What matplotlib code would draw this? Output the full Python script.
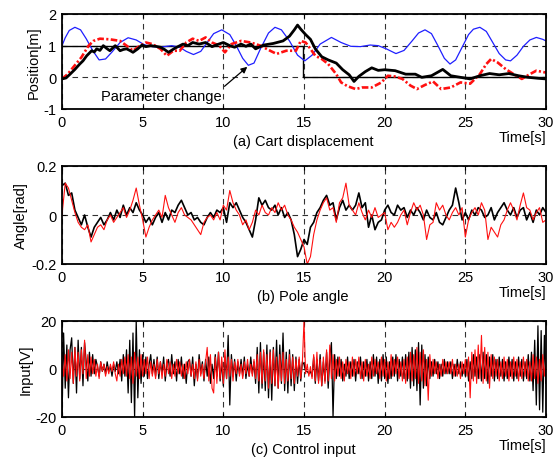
import numpy as np
import matplotlib
matplotlib.use("Agg")
import matplotlib.pyplot as plt

plt.rcParams['font.family'] = ['Liberation Sans', 'DejaVu Sans']
plt.rcParams['font.size'] = 10

# ---- (a) cart displacement ----
ref_t = [0, 14.95, 14.95, 30]
ref_pos = [1, 1, 0, 0]

blue_t = [0, 0.2, 0.45, 0.8, 1.15, 1.5, 1.9, 2.3, 2.7, 3.1, 3.6, 4.1, 4.6, 5.1, 5.6,
          6.2, 6.8, 7.3, 7.7, 8.15, 8.6, 9.0, 9.4, 9.9, 10.4, 10.8, 11.2, 11.55, 11.9,
          12.3, 12.8, 13.2, 13.6, 14.1, 14.6, 15.05, 15.5, 16.0, 16.7, 17.3, 17.9, 18.5,
          19.1, 19.6, 20.1, 20.7, 21.2, 21.7, 22.1, 22.5, 22.9, 23.3, 23.7, 24.05, 24.4,
          24.8, 25.2, 25.5, 25.9, 26.3, 26.7, 27.1, 27.5, 27.8, 28.2, 28.6, 29.0, 29.4,
          29.8, 30.0]
blue_pos = [1.00, 1.25, 1.48, 1.58, 1.50, 1.22, 0.85, 0.55, 0.58, 0.80, 1.10, 1.25, 1.18,
            1.03, 0.97, 0.96, 1.00, 0.95, 0.82, 0.72, 0.82, 1.10, 1.38, 1.50, 1.35, 1.00,
            0.60, 0.38, 0.45, 0.90, 1.40, 1.58, 1.50, 1.15, 0.70, 0.52, 0.70, 1.05, 1.26,
            1.10, 0.98, 0.97, 1.02, 1.00, 0.90, 0.75, 0.85, 1.15, 1.40, 1.50, 1.38, 1.00,
            0.60, 0.42, 0.55, 0.95, 1.35, 1.52, 1.58, 1.45, 1.10, 0.75, 0.55, 0.52, 0.70,
            0.98, 1.18, 1.26, 1.20, 1.15]

black_t = [0, 0.25, 0.5, 0.8, 1.1, 1.3, 1.53, 1.84, 2.0, 2.15, 2.35, 2.56, 2.75, 2.97, 3.15,
           3.3, 3.6, 3.8, 4.0, 4.2, 4.4, 4.7, 4.96, 5.2, 5.5, 5.8, 6.1, 6.35, 6.6, 7.0, 7.5,
           7.8, 8.1, 8.5, 8.9, 9.3, 9.6, 10.0, 10.4, 10.7, 11.1, 11.4, 11.7, 12.0, 12.5,
           13.1, 13.7, 14.1, 14.4, 14.6, 14.8, 15.1, 15.4, 15.7, 16.1, 16.5, 17.0, 17.4,
           17.8, 18.1, 18.4, 18.8, 19.2, 19.6, 20.0, 20.65, 21.3, 21.9, 22.3, 22.9, 23.6,
           24.1, 24.7, 25.3, 25.9, 26.5, 27.1, 27.7, 28.3, 28.9, 29.5, 30.0]
black_pos = [-0.05, -0.02, 0.10, 0.25, 0.42, 0.52, 0.68, 0.84, 0.80, 0.90, 0.85, 1.00, 0.92,
             0.84, 0.93, 1.00, 0.84, 0.88, 0.90, 0.85, 0.79, 0.90, 1.02, 0.97, 1.00, 0.98,
             0.95, 0.88, 0.79, 0.92, 1.05, 1.00, 1.10, 1.05, 1.10, 0.97, 1.03, 1.10, 1.00,
             0.95, 1.05, 0.98, 1.05, 0.90, 1.02, 1.07, 1.15, 1.30, 1.50, 1.65, 1.52, 1.35,
             1.20, 0.90, 0.65, 0.55, 0.45, 0.24, 0.08, -0.13, 0.03, 0.18, 0.30, 0.22, 0.24,
             0.21, 0.10, 0.10, 0.00, 0.05, 0.25, 0.05, 0.00, -0.05, 0.05, 0.12, 0.08, 0.12,
             0.05, 0.00, -0.03, -0.05]

red_t = [0, 0.35, 0.7, 1.2, 1.65, 1.95, 2.35, 2.97, 3.6, 4.0, 4.4, 4.75, 5.2, 5.6, 6.1,
         6.5, 6.9, 7.3, 7.7, 8.1, 8.5, 8.9, 9.3, 9.75, 10.1, 10.5, 11.1, 11.7, 12.3, 12.9,
         13.3, 13.9, 14.5, 14.8, 15.1, 15.4, 15.7, 16.1, 16.5, 17.0, 17.3, 17.7, 18.2,
         18.6, 19.2, 19.8, 20.2, 20.6, 21.1, 21.6, 22.0, 22.5, 23.0, 23.5, 24.1, 24.7,
         25.3, 25.9, 26.3, 26.6, 27.0, 27.5, 28.0, 28.5, 29.0, 29.4, 30.0]
red_pos = [-0.05, 0.10, 0.32, 0.63, 1.00, 1.15, 1.22, 1.20, 1.15, 1.00, 0.84, 0.97, 1.10,
           1.05, 0.90, 0.68, 0.84, 0.84, 1.10, 1.22, 1.15, 1.26, 1.10, 1.00, 0.79, 1.05,
           1.15, 1.10, 1.00, 0.84, 0.74, 0.84, 0.84, 1.15, 1.10, 0.90, 0.68, 0.58, 0.42,
           0.10, -0.16, -0.28, -0.37, -0.32, -0.32, -0.16, 0.05, 0.03, -0.05, -0.26, -0.37,
           -0.24, -0.13, -0.37, -0.32, -0.16, -0.20, 0.10, 0.42, 0.58, 0.47, 0.26, 0.10,
           -0.05, 0.10, 0.21, 0.15]

# ---- (b) pole angle, sampled every 0.2 s ----
angle_black = [
    0.12, 0.13, 0.08, 0.09, 0.02,
    -0.01, -0.04, 0.00, -0.05, -0.09,
    -0.05, -0.03, -0.01, -0.04, -0.02,
    0.01, -0.02, 0.02, -0.01, 0.04,
    0.00, 0.03, 0.01, 0.05, 0.02,
    0.00, -0.03, -0.01, -0.04, -0.01,
    0.01, -0.03, 0.01, -0.02, 0.02,
    0.01, 0.04, 0.06, 0.03, 0.00,
    0.01, -0.02, -0.01, -0.03, -0.04,
    -0.01, 0.01, -0.01, 0.02, 0.01,
    0.03, -0.03, 0.05, 0.03, 0.05,
    0.02, -0.01, -0.03, -0.06, -0.09,
    -0.02, 0.07, 0.04, 0.06, 0.03,
    0.02, 0.04, 0.00, 0.03, -0.01,
    0.01, -0.02, -0.08, -0.17, -0.14,
    -0.10, -0.12, -0.05, -0.03, 0.01,
    0.03, 0.06, 0.08, 0.04, 0.05,
    -0.02, 0.03, 0.06, 0.02, 0.04,
    0.02, 0.04, 0.09, 0.03, 0.05,
    -0.05, 0.00, -0.06, -0.03, -0.02,
    0.02, 0.04, 0.01, 0.00, 0.04,
    0.02, 0.03, -0.01, 0.02, 0.00,
    0.03, 0.01, -0.02, 0.02, -0.01,
    -0.02, 0.01, -0.03, -0.04, -0.01,
    0.02, 0.04, 0.11, 0.05, -0.02,
    0.01, -0.02, 0.02, 0.00, 0.03,
    0.02, -0.01, 0.00, 0.03, -0.02,
    0.01, 0.03, 0.05, 0.02, 0.00,
    0.03, -0.01, 0.02, 0.03, -0.02,
    0.01, -0.03, 0.02, 0.00, 0.03,
    0.01]
angle_red = [
    0.00, 0.13, 0.11, 0.06, 0.01,
    -0.03, -0.05, -0.06, -0.04, -0.11,
    -0.08, -0.05, -0.04, -0.06, -0.02,
    0.00, -0.03, -0.01, 0.01, 0.03,
    -0.01, 0.02, 0.06, 0.11, 0.04,
    -0.02, -0.09, -0.05, -0.02, 0.00,
    0.02, -0.01, 0.08, 0.03, 0.00,
    -0.03, 0.01, 0.03, 0.00, -0.01,
    -0.02, -0.04, -0.06, -0.08, -0.03,
    -0.01, 0.00, -0.02, 0.01, -0.02,
    0.04, 0.02, 0.10, 0.05, 0.02,
    0.00, -0.04, -0.02, -0.06, -0.03,
    0.02, 0.00, 0.04, 0.01, 0.00,
    0.03, 0.01, 0.05, 0.02, 0.04,
    0.00, -0.02, -0.05, -0.07, -0.10,
    -0.13, -0.20, -0.17, -0.08, -0.02,
    0.02, 0.05, 0.07, 0.02, 0.03,
    -0.03, 0.05, 0.07, 0.13, 0.04,
    0.02, 0.00, 0.05, 0.01, -0.02,
    0.02, -0.01, 0.03, -0.01, 0.00,
    0.01, -0.06, -0.03, -0.05, -0.03,
    0.00, 0.02, -0.04, 0.01, 0.05,
    0.02, 0.04, 0.00, -0.10, -0.04,
    -0.03, 0.05, 0.02, 0.04, 0.00,
    -0.02, 0.01, 0.03, 0.00, 0.03,
    -0.09, -0.02, 0.01, 0.03, 0.00,
    0.05, 0.02, -0.10, -0.05, -0.07,
    -0.09, -0.04, -0.02, 0.02, 0.05,
    0.02, -0.02, 0.04, 0.09, 0.03,
    0.02, -0.02, 0.01, 0.03, -0.03,
    -0.02]

# ---- (c) control input, sampled every 0.1 s ----
input_black = [
    -20, 15, -8, 10, -12, 8, 13, -6, 9, -10,
    12, -4, 9, -7, 11, 3, -5, 7, -3, 6,
    -2, 4, 1, -3, 3, -1, 2, -2, 3, -1,
    1, -3, 2, -1, 3, -2, 4, -5, 6, -3,
    8, -10, 12, -14, 15, -20, 20, -12, 8, -6,
    6, -3, 5, -4, 2, 6, -2, 4, -3, 5,
    -4, 3, -2, 5, -5, 2, 4, -3, 6, -2,
    3, -5, 4, -2, 5, -4, 2, -6, 3, 4,
    -3, 5, -7, 2, -4, 6, -2, 3, -5, 4,
    -3, 5, -6, 2, -4, 6, -3, 7, -5, 3,
    -7, 5, -4, 14, -15, 6, -3, 4, -5, 3,
    -2, 4, -3, 5, -4, 2, -3, 5, -2, 3,
    -6, 9, -10, 11, -8, 7, -9, 10, -12, 8,
    -13, 9, -7, 12, -8, 10, -6, 15, -9, 7,
    -10, 8, -7, 6, -9, 5, -6, 4, -5, 3,
    2, -1, -1, -2, -1, -3, 5, -6, 4, -5,
    6, -7, 3, -5, 7, -8, 5, 11, -20, 6,
    -4, 5, -3, 4, -5, 2, -3, 5, -4, 3,
    -3, 4, -5, 3, -2, 5, -4, 3, -3, 4,
    -5, 3, -4, 6, -3, 5, -6, 4, -5, 6,
    -4, 5, -6, 3, -4, 5, -3, 6, -5, 4,
    -3, 5, -4, 6, -5, 7, -8, 9, -7, 8,
    -9, 11, -15, 10, -8, 6, -7, 5, -4, 3,
    -3, 4, -2, 3, -4, 2, -3, 4, -2, 3,
    -2, 3, -4, 2, -3, 4, -2, 3, -3, 2,
    -3, 4, -5, 3, -4, 6, -3, 5, -4, 6,
    -5, 7, -4, 6, -6, 5, -3, 6, -5, 4,
    -4, 5, -3, 4, -5, 3, -4, 5, -3, 4,
    -5, 3, -4, 5, -3, 4, -5, 3, -4, 6,
    -5, 7, -9, 12, -15, 18, -17, 16, -18, 14,
    -6]
input_red = [
    4, -3, 6, -5, 8, -4, 7, -6, 9, -3,
    7, -5, 8, -2, 12, -4, 6, -3, 5, -2,
    4, -3, 2, -4, 3, -1, 2, -3, 1, -2,
    2, -1, 3, -2, -5, 2, -3, 4, -2, 5,
    -3, 6, -4, 5, -6, 7, -3, 5, -4, 6,
    -3, 4, -2, 5, -4, 3, -3, 2, -4, 4,
    -2, 3, -4, 2, -3, 4, -2, 3, -4, 2,
    -3, 4, -2, 3, -3, 2, -4, 3, -2, 4,
    -3, 2, -4, 3, -5, 4, -3, 2, -4, 3,
    9, -5, 6, -8, -10, 5, -6, 7, -4, 5,
    -6, 8, -4, 5, -3, 4, -5, 3, -2, 4,
    -3, 2, -4, 3, -2, 4, -3, 2, -3, 4,
    -4, 6, -5, 7, -6, 8, -5, 6, -8, 7,
    -6, 8, -7, 5, -8, 6, -5, 7, -6, 4,
    -5, 6, -4, 5, -6, 4, -3, 5, -4, 3,
    20, -2, 2, -3, 1, -4, 6, -5, 7, -6,
    4, -7, 5, -6, 8, -5, 10, -4, 6, -5,
    4, -3, 5, -4, 3, -5, 4, -2, 3, -4,
    5, -3, 4, -2, 5, -4, 3, -5, 4, -3,
    2, -4, 5, -3, 4, -2, 3, -4, 5, -3,
    4, -5, 3, -4, 6, -3, 4, -2, 5, -4,
    3, -5, 4, -6, 5, -4, 7, -5, 6, -4,
    9, -6, 7, -5, 8, -7, 4, -13, 6, -3,
    4, -2, 3, -4, 2, -3, 4, -2, 3, -2,
    3, -2, 4, -3, 2, -3, 2, -4, 3, -2,
    4, -3, 5, -12, 7, -5, 8, -6, 10, -4,
    14, -6, 9, -5, 7, -8, 6, -4, 5, -3,
    4, -5, 3, -4, 5, -3, 4, -5, 3, -4,
    5, -3, 4, -5, 3, -4, 5, -3, 4, -5,
    3, -5, 6, -4, 5, -6, 4, -5, 6, -3,
    4]

t_angle = np.linspace(0, 30, len(angle_black))
t_input = np.linspace(0, 30, len(input_black))

W, H = 553, 460
fig = plt.figure(figsize=(W / 100, H / 100), dpi=100)


# axes box from pixel coordinates (left, top, right, bottom)
def make_axes(l, t, r, b):
    return fig.add_axes([l / W, 1 - b / H, (r - l) / W, (b - t) / H])


def style_axes(ax, yticks, ylim, ylabel):
    ax.set_xlim(0, 30)
    ax.set_ylim(*ylim)
    ax.set_xticks([0, 5, 10, 15, 20, 25, 30])
    ax.set_yticks(yticks)
    ax.set_yticklabels([('%g' % v) for v in yticks])
    ax.tick_params(direction='in', top=True, right=True, length=3, labelsize=10.5, pad=4)
    ax.grid(True, color='k', ls=(0, (5, 4)), lw=0.8, alpha=0.8)
    ax.set_axisbelow(True)
    for s in ax.spines.values():
        s.set_linewidth(1.3)
    ax.set_ylabel(ylabel, fontsize=10.5, labelpad=2)


def captions(bottom_px, cap):
    fig.text(546 / W, 1 - (bottom_px + 28) / H, 'Time[s]', ha='right', va='center', fontsize=10.5)
    fig.text(303 / W, 1 - (bottom_px + 32) / H, cap, ha='center', va='center', fontsize=10.5)


ax1 = make_axes(62, 15, 546, 110)
ax1.plot(ref_t, ref_pos, color='k', lw=1.0)
ax1.plot(blue_t, blue_pos, color='#1f1fff', lw=0.9)
ax1.plot(red_t, red_pos, color='#ff1010', lw=1.9, ls=(0, (2.5, 0.9, 0.8, 0.9)))
ax1.plot(black_t, black_pos, color='k', lw=2.0)
style_axes(ax1, [-1, 0, 1, 2], (-1, 2), 'Position[m]')
ax1.annotate('Parameter change', xy=(11.55, 0.36), xytext=(9.9, -0.58),
             ha='right', va='center', fontsize=10.5,
             arrowprops=dict(arrowstyle='-|>', color='k', lw=0.9, relpos=(1, 1),
                             shrinkA=0, shrinkB=1, mutation_scale=9))
captions(110, '(a) Cart displacement')

ax2 = make_axes(62, 167, 546, 265)
ax2.plot(t_angle, angle_black, color='k', lw=1.2)
ax2.plot(t_angle, angle_red, color='#ff1010', lw=0.8)
style_axes(ax2, [-0.2, 0, 0.2], (-0.2, 0.2), 'Angle[rad]')
captions(265, '(b) Pole angle')

ax3 = make_axes(62, 322, 546, 418)
ax3.plot(t_input, input_black, color='k', lw=0.9)
ax3.plot(t_input, input_red, color='#ff1010', lw=0.8)
style_axes(ax3, [-20, 0, 20], (-20, 20), 'Input[V]')
captions(418, '(c) Control input')

fig.savefig('out.png', dpi=100)
